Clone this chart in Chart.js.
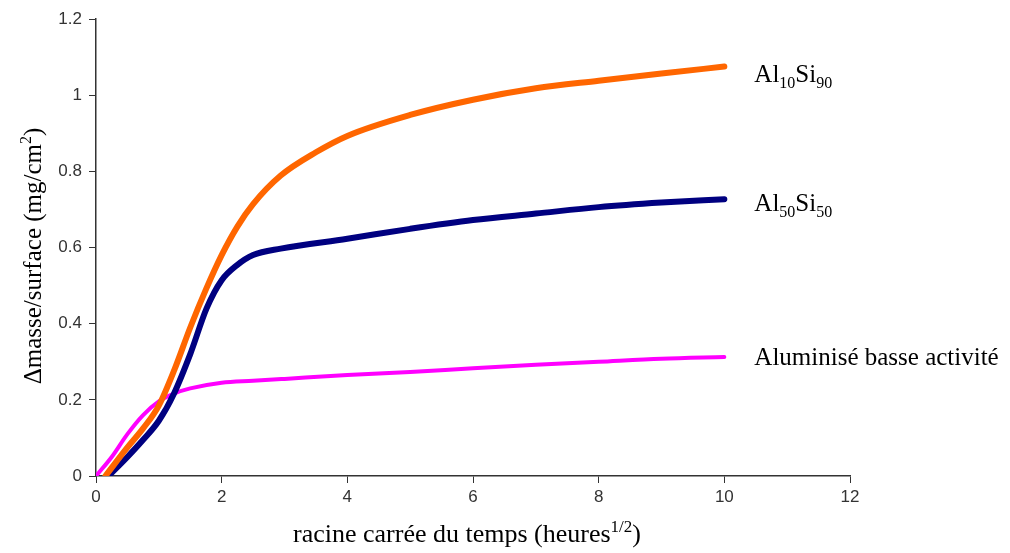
<!DOCTYPE html>
<html>
<head>
<meta charset="utf-8">
<script src="https://cdn.jsdelivr.net/npm/chart.js@4"></script>
<style>
  body { margin: 0; background: #fff; }
  #wrap { width: 1010px; height: 553px; position: relative; }
</style>
</head>
<body>
<div id="wrap"><canvas id="chart"></canvas></div>
<script>
// x = racine carrée du temps, y = delta masse / surface
const xAl10 = [0.15, 0.5, 0.75, 1, 1.25, 1.5, 1.75, 2, 2.25, 2.5, 2.94, 3.5, 4, 5, 6, 7, 8, 9, 10];
const yAl10 = [0, 0.075, 0.125, 0.185, 0.28, 0.39, 0.49, 0.58, 0.655, 0.714, 0.789, 0.85, 0.893, 0.948, 0.988, 1.018, 1.038, 1.057, 1.075];

const xAl50 = [0.2, 0.5, 0.75, 1, 1.24, 1.5, 1.76, 2, 2.24, 2.5, 2.94, 4, 5, 6, 7, 8, 9, 10];
const yAl50 = [0, 0.05, 0.095, 0.145, 0.216, 0.32, 0.44, 0.514, 0.553, 0.58, 0.597, 0.623, 0.649, 0.672, 0.689, 0.706, 0.718, 0.727];

const xAlum = [0, 0.25, 0.5, 0.75, 1, 1.25, 1.5, 2, 2.5, 3, 4, 5, 6, 7, 8, 9, 10];
const yAlum = [0, 0.05, 0.11, 0.16, 0.196, 0.217, 0.23, 0.245, 0.25, 0.255, 0.265, 0.273, 0.283, 0.292, 0.3, 0.308, 0.3125];

const xTicks = [0, 2, 4, 6, 8, 10, 12];
const yTicks = [0, 0.2, 0.4, 0.6, 0.8, 1, 1.2];

const toPoints = (xs, ys) => xs.map((x, i) => ({ x: x, y: ys[i] }));

const serif = "'Liberation Serif', 'Times New Roman', serif";
const sans = "'Liberation Sans', Arial, sans-serif";

// text pieces: normal, sub or sup
function drawRich(ctx, parts, x, y, size) {
    let cx = x;
    parts.forEach(p => {
        const small = p.sub || p.sup;
        const fs = small ? Math.round(size * 0.64) : size;
        ctx.font = fs + 'px ' + serif;
        let dy = 0;
        if (p.sub) dy = size * 0.24;
        if (p.sup) dy = -size * 0.4;
        ctx.fillText(p.t, cx, y + dy);
        cx += ctx.measureText(p.t).width;
    });
    return cx - x;
}
function richWidth(ctx, parts, size) {
    let w = 0;
    parts.forEach(p => {
        const fs = (p.sub || p.sup) ? Math.round(size * 0.64) : size;
        ctx.font = fs + 'px ' + serif;
        w += ctx.measureText(p.t).width;
    });
    return w;
}

const seriesLabels = [
    { parts: [{ t: 'Al' }, { t: '10', sub: true }, { t: 'Si' }, { t: '90', sub: true }], dy: 15 },
    { parts: [{ t: 'Al' }, { t: '50', sub: true }, { t: 'Si' }, { t: '50', sub: true }], dy: 12 },
    { parts: [{ t: 'Aluminisé basse activité' }], dy: 8 }
];
const xTitle = [{ t: 'racine carrée du temps (heures' }, { t: '1/2', sup: true }, { t: ')' }];
const yTitle = [{ t: 'Δmasse/surface (mg/cm' }, { t: '2', sup: true }, { t: ')' }];

const textPlugin = {
    id: 'richText',
    afterDraw(chart) {
        const ctx = chart.ctx;
        const xs = chart.scales.x, ys = chart.scales.y;
        const size = 25;
        ctx.save();
        ctx.fillStyle = '#000';
        ctx.textBaseline = 'alphabetic';
        ctx.textAlign = 'left';

        // series labels next to the line ends
        chart.data.datasets.forEach((ds, i) => {
            const last = ds.data[ds.data.length - 1];
            const px = xs.getPixelForValue(last.x) + 30;
            const py = ys.getPixelForValue(last.y) + seriesLabels[i].dy;
            drawRich(ctx, seriesLabels[i].parts, px, py, size);
        });

        // x title
        drawRich(ctx, xTitle, 293, 542, 26);

        // y title, rotated
        const wy = richWidth(ctx, yTitle, size);
        ctx.translate(41, 256);
        ctx.rotate(-Math.PI / 2);
        drawRich(ctx, yTitle, -wy / 2, 0, size);
        ctx.restore();
    }
};

const ctx = document.getElementById('chart').getContext('2d');
new Chart(ctx, {
    type: 'scatter',
    data: {
        datasets: [
            { label: 'Al10Si90', data: toPoints(xAl10, yAl10), borderColor: '#FF6600', borderWidth: 6 },
            { label: 'Al50Si50', data: toPoints(xAl50, yAl50), borderColor: '#000080', borderWidth: 6 },
            { label: 'Aluminisé basse activité', data: toPoints(xAlum, yAlum), borderColor: '#FF00FF', borderWidth: 4 }
        ].map(d => Object.assign(d, {
            showLine: true,
            pointRadius: 0,
            cubicInterpolationMode: 'monotone',
            borderCapStyle: 'round',
            fill: false
        }))
    },
    options: {
        responsive: true,
        maintainAspectRatio: false,
        animation: false,
        layout: { padding: { left: 0, right: 160, top: 19, bottom: 0 } },
        plugins: {
            legend: { display: false },
            tooltip: { enabled: false }
        },
        scales: {
            x: {
                type: 'linear',
                min: 0,
                max: 12,
                afterFit: s => { s.height = 77; },
                afterBuildTicks: s => { s.ticks = xTicks.map(v => ({ value: v })); },
                grid: { drawOnChartArea: false, tickLength: 7, color: '#333', lineWidth: 1 },
                border: { color: '#333', width: 1.5 },
                ticks: { color: '#333', padding: 4, font: { family: sans, size: 17 } }
            },
            y: {
                min: 0,
                max: 1.2,
                afterFit: s => { s.width = 96; },
                afterBuildTicks: s => { s.ticks = yTicks.map(v => ({ value: v })); },
                grid: { drawOnChartArea: false, tickLength: 7, color: '#333', lineWidth: 1 },
                border: { color: '#333', width: 1.5 },
                ticks: {
                    color: '#333',
                    padding: 7,
                    font: { family: sans, size: 17 },
                    callback: v => String(Math.round(v * 10) / 10)
                }
            }
        }
    },
    plugins: [textPlugin]
});
</script>
</body>
</html>
